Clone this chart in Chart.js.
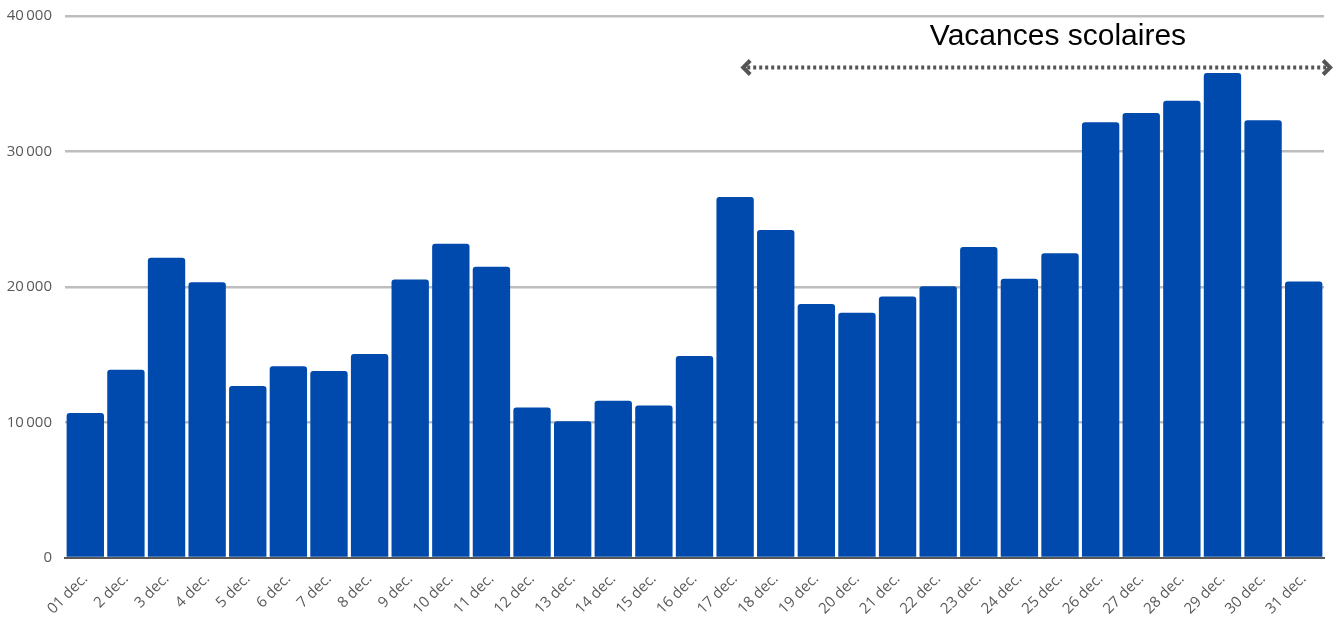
<!DOCTYPE html>
<html>
	<head>
		<meta charset="utf-8">
		<script src="https://cdn.jsdelivr.net/npm/chart.js@4"></script>
		<title>Décembre</title>
		<style>
			html, body { margin: 0; padding: 0; background: #ffffff; }
			#wrap { width: 1340px; height: 617px; position: relative; }
		</style>
	</head>
	<body>
		<div id="wrap"><canvas id="myChart"></canvas></div>
		<script>
			var labels = ['01 dec.', '2 dec.', '3 dec.', '4 dec.', '5 dec.', '6 dec.', '7 dec.', '8 dec.',
				'9 dec.', '10 dec.', '11 dec.', '12 dec.', '13 dec.', '14 dec.', '15 dec.', '16 dec.',
				'17 dec.', '18 dec.', '19 dec.', '20 dec.', '21 dec.', '22 dec.', '23 dec.', '24 dec.',
				'25 dec.', '26 dec.', '27 dec.', '28 dec.', '29 dec.', '30 dec.', '31 dec.'];
			var values = [10700, 13900, 22150, 20350, 12700, 14150, 13800, 15050,
				20550, 23200, 21500, 11100, 10100, 11600, 11250, 14900,
				26650, 24200, 18750, 18100, 19300, 20050, 22950, 20600,
				22500, 32150, 32850, 33750, 35800, 32300, 20400];
			var yTicks = [0, 10000, 20000, 30000, 40000];

			// school holidays annotation (category index range, y value)
			var vacLabel = 'Vacances scolaires';
			var vacFrom = 16.15;
			var vacTo = 30.7;
			var vacArrowY = 36200;
			var vacTextX = 23.95;
			var vacTextY = 38500;

			function fmt(v) {
				return String(v).replace(/\B(?=(\d{3})+(?!\d))/g, '\u2009');
			}

			var vacances = {
				id: 'vacances',
				afterDraw: function (chart) {
					var c = chart.ctx;
					var x = chart.scales.x;
					var y = chart.scales.y;
					var x1 = x.getPixelForValue(vacFrom);
					var x2 = x.getPixelForValue(vacTo);
					var ya = y.getPixelForValue(vacArrowY);
					c.save();
					c.strokeStyle = '#555555';
					c.lineWidth = 4;
					c.setLineDash([3, 3]);
					c.beginPath();
					c.moveTo(x1 + 6, ya);
					c.lineTo(x2 - 6, ya);
					c.stroke();
					c.setLineDash([]);
					c.lineWidth = 4;
					c.lineJoin = 'miter';
					c.beginPath();
					c.moveTo(x1 + 9, ya - 7);
					c.lineTo(x1 + 2, ya);
					c.lineTo(x1 + 9, ya + 7);
					c.moveTo(x2 - 9, ya - 7);
					c.lineTo(x2 - 2, ya);
					c.lineTo(x2 - 9, ya + 7);
					c.stroke();
					c.fillStyle = '#000000';
					c.font = '30px "Liberation Sans", Arial, sans-serif';
					c.textAlign = 'center';
					c.textBaseline = 'middle';
					c.fillText(vacLabel, x.getPixelForValue(vacTextX), y.getPixelForValue(vacTextY));
					c.restore();
				}
			};

			var chart = new Chart(document.getElementById('myChart'), {
				type: 'bar',
				data: {
					labels: labels,
					datasets: [{
						data: values,
						backgroundColor: '#004aad',
						borderRadius: 3,
						barPercentage: 0.92,
						categoryPercentage: 1
					}]
				},
				options: {
					responsive: true,
					maintainAspectRatio: false,
					animation: false,
					layout: { padding: { top: 16, right: 16, left: 0, bottom: 0 } },
					plugins: {
						legend: { display: false },
						tooltip: { enabled: false }
					},
					scales: {
						x: {
							grid: { display: false },
							border: { color: '#595959', width: 2 },
							ticks: {
								color: '#595959',
								font: { family: '"Open Sans"', size: 15 },
								minRotation: 45,
								maxRotation: 45,
								padding: 4,
								autoSkip: false
							},
							afterFit: function (s) { s.height = 59; }
						},
						y: {
							min: 0,
							max: 40000,
							afterBuildTicks: function (s) {
								s.ticks = yTicks.map(function (v) { return { value: v }; });
							},
							grid: {
								color: function (ctx) { return ctx.tick && ctx.tick.value === 0 ? 'rgba(0,0,0,0)' : '#bdbdbd'; },
								lineWidth: 2.5,
								drawTicks: false
							},
							border: { display: false },
							ticks: {
								color: '#595959',
								font: { family: '"Open Sans"', size: 15 },
								padding: 13,
								callback: function (v) { return fmt(v); }
							},
							afterFit: function (s) { s.width = 65; s.paddingTop = 0; }
						}
					}
				},
				plugins: [vacances]
			});
		</script>
	</body>
</html>
